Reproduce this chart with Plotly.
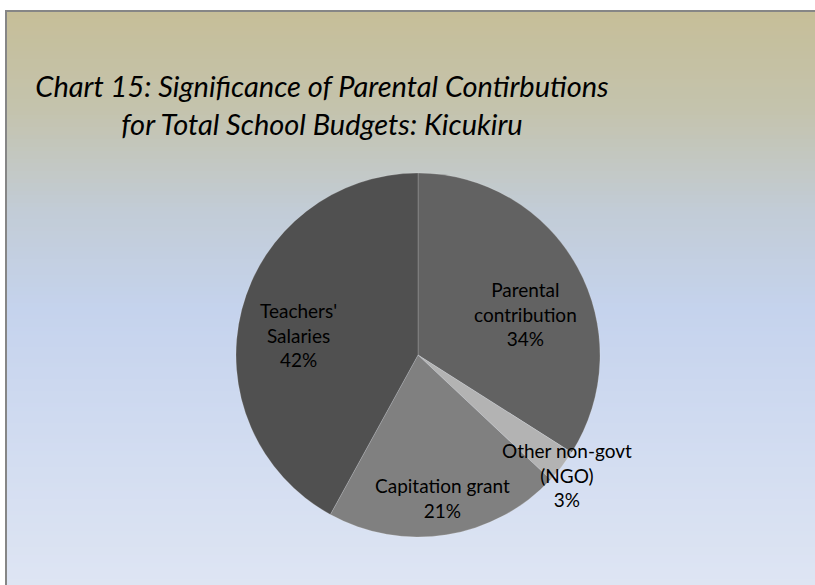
import plotly.graph_objects as go

# data
labels = ["Parental contribution", "Other non-govt (NGO)", "Capitation grant", "Teachers' Salaries"]
label_text = ["Parental<br>contribution", "Other non-govt<br>(NGO)", "Capitation grant", "Teachers'<br>Salaries"]
shares = [34, 3, 21, 42]
slice_colors = ["#626262", "#b3b3b3", "#808080", "#505050"]

W, H = 815, 585

fig = go.Figure()

fig.add_trace(go.Pie(
    labels=labels,
    values=shares,
    sort=False,
    direction="clockwise",
    rotation=0,
    marker=dict(colors=slice_colors, line=dict(color="rgba(255,255,255,0.3)", width=0.6)),
    textinfo="none",
    showlegend=False,
    domain=dict(x=[(418 - 182) / W, (418 + 182) / W], y=[1 - 537 / H, 1 - 173 / H]),
    hoverinfo="label+percent",
))

# background gradient (chart area), stops as (pixel y, colour)
stops = [(11, (198, 190, 152)), (110, (196, 195, 173)), (210, (194, 204, 214)),
         (310, (197, 211, 237)), (460, (211, 221, 241)), (585, (222, 229, 243))]


def colour_at(y):
    for (y0, c0), (y1, c1) in zip(stops[:-1], stops[1:]):
        if y0 <= y <= y1:
            t = (y - y0) / (y1 - y0)
            return "rgb(%d,%d,%d)" % tuple(round(a + (b - a) * t) for a, b in zip(c0, c1))
    return "rgb(%d,%d,%d)" % stops[-1][1]


shapes = []
step = 4
y = 11
while y < H:
    shapes.append(dict(type="rect", xref="paper", yref="paper", layer="below",
                       x0=6 / W, x1=1.01, y0=1 - (y + step + 0.5) / H, y1=1 - y / H,
                       fillcolor=colour_at(y + step / 2), line=dict(width=0)))
    y += step
shapes.append(dict(type="rect", xref="paper", yref="paper", layer="below",
                   x0=6 / W, x1=1.01, y0=-0.01, y1=1 - 11 / H,
                   fillcolor="rgba(0,0,0,0)", line=dict(color="#868686", width=2)))

# slice labels
label_pos = [(525, 314), (567, 475), (442, 498), (298, 335)]
annotations = []
for txt, val, (px, py) in zip(label_text, shares, label_pos):
    annotations.append(dict(
        text=f"{txt}<br>{val}%", x=px / W, y=1 - py / H, xref="paper", yref="paper",
        xanchor="center", yanchor="middle", showarrow=False, align="center",
        font=dict(family="Lato, Carlito, sans-serif", size=19, color="#000000"),
    ))

fig.update_layout(
    width=W, height=H,
    margin=dict(l=0, r=0, t=0, b=0),
    paper_bgcolor="#ffffff",
    title=dict(
        text="Chart 15: Significance of Parental Contirbutions<br>for Total School Budgets: Kicukiru",
        x=322 / W, xanchor="center", xref="paper",
        y=1 - 97 / H, yanchor="middle", yref="paper",
        font=dict(family="Lato, Carlito, sans-serif", size=29, color="#000000", style="italic"),
    ),
    shapes=shapes,
    annotations=annotations,
)

fig.write_html("out.html", config={"displayModeBar": False},
               post_script="document.body.style.margin='0';")
